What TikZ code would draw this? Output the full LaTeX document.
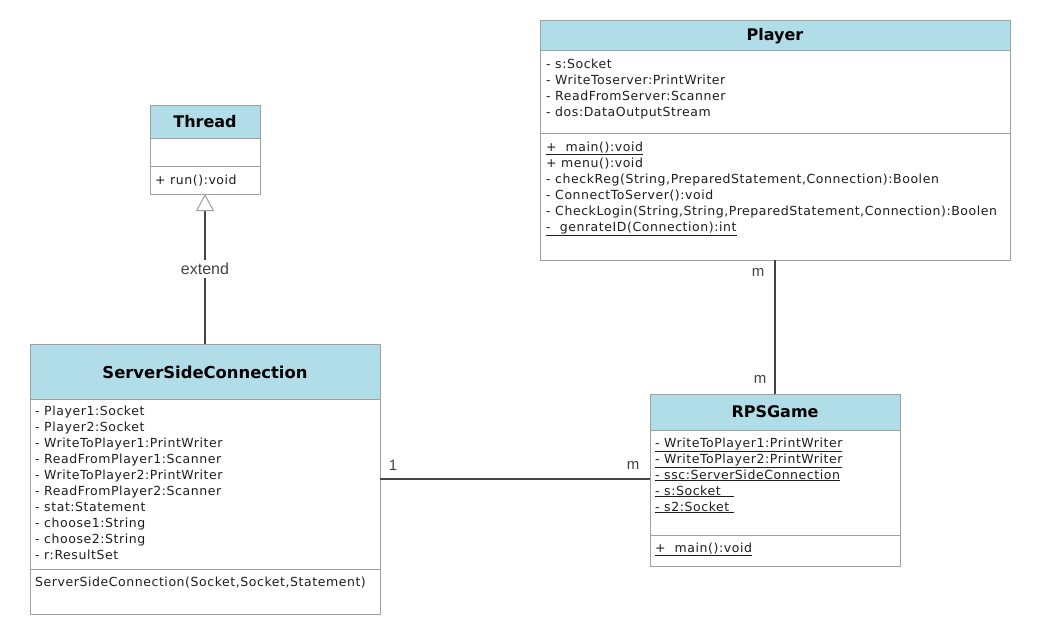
\documentclass[tikz,border=0pt]{standalone}
\usepackage{fontspec}
\setmainfont{DejaVu Sans}
\newfontfamily\memberfont[LetterSpace=4.5]{DejaVu Sans}
\newfontfamily\labelfont{Liberation Sans}
\usetikzlibrary{arrows.meta}
\definecolor{hdr}{RGB}{177,221,232}
\definecolor{frame}{RGB}{160,160,160}
\definecolor{wire}{RGB}{68,68,68}
\definecolor{txt}{RGB}{30,30,30}
\newcommand\ul[1]{$\underline{\hbox{#1}}$}
\tikzset{
  classbox/.style={draw=frame, line width=1pt, anchor=north west, inner sep=0pt, outer sep=0pt},
  member/.style={anchor=base west, inner sep=0pt, font=\memberfont\fontsize{12.5}{14}\selectfont, text=txt},
  classname/.style={anchor=center, inner sep=0pt, font=\bfseries\fontsize{16}{18}\selectfont, text=black},
  sepline/.style={draw=frame, line width=1pt},
  wirestyle/.style={draw=wire, line width=1.4pt},
  mult/.style={font=\labelfont\fontsize{15}{17}\selectfont, text=wire, inner sep=0pt}
}
\begin{document}
\begin{tikzpicture}[x=1pt, y=-1pt]
\useasboundingbox (0,0) rectangle (1051,641);
\fill[white] (0,0) rectangle (1051,641);

% ---------- Thread ----------
\fill[hdr] (150,105) rectangle (260,138);
\draw[sepline] (150,138) -- (260,138);
\draw[sepline] (150,166) -- (260,166);
\node[classbox, minimum width=110pt, minimum height=89pt] (thread) at (150,105) {};
\node[classname] (thread-title) at (205,122) {Thread};
\node[member] (thread-m1) at (155,184) {+ run():void};

% ---------- ServerSideConnection ----------
\fill[hdr] (30,344) rectangle (380,399);
\draw[sepline] (30,399) -- (380,399);
\draw[sepline] (30,569) -- (380,569);
\node[classbox, minimum width=350pt, minimum height=270pt] (ssc) at (30,344) {};
\node[classname, font=\bfseries\fontsize{16.4}{18}\selectfont] (ssc-title) at (205,372) {ServerSideConnection};
\foreach \t [count=\i] in {- Player1:Socket, - Player2:Socket, - WriteToPlayer1:PrintWriter,
    - ReadFromPlayer1:Scanner, - WriteToPlayer2:PrintWriter, - ReadFromPlayer2:Scanner,
    - stat:Statement, - choose1:String, - choose2:String, - r:ResultSet}
  \node[member] (ssc-a\i) at (35,{415+16.1*(\i-1)}) {\t};
\node[member] (ssc-m1) at (35,586) {ServerSideConnection(Socket,Socket,Statement)};

% ---------- Player ----------
\fill[hdr] (540,20) rectangle (1010,50);
\draw[sepline] (540,50) -- (1010,50);
\draw[sepline] (540,133) -- (1010,133);
\node[classbox, minimum width=470pt, minimum height=240pt] (player) at (540,20) {};
\node[classname] (player-title) at (775,36) {Player};
\foreach \t [count=\i] in {- s:Socket, - WriteToserver:PrintWriter,
    - ReadFromServer:Scanner, - dos:DataOutputStream}
  \node[member] (player-a\i) at (546,{68+16*(\i-1)}) {\t};
\foreach \t [count=\i] in {{\ul{+ \ main():void}}, {+ menu():void},
    {- checkReg(String,PreparedStatement,Connection):Boolen},
    {- ConnectToServer():void},
    {- CheckLogin(String,String,PreparedStatement,Connection):Boolen},
    {\ul{- \ genrateID(Connection):int}}}
  \node[member] (player-m\i) at (546,{151+16*(\i-1)}) {\t};

% ---------- RPSGame ----------
\fill[hdr] (650,394) rectangle (900,430);
\draw[sepline] (650,430) -- (900,430);
\draw[sepline] (650,535) -- (900,535);
\node[classbox, minimum width=250pt, minimum height=172pt] (rps) at (650,394) {};
\node[classname] (rps-title) at (775,412) {RPSGame};
\foreach \t [count=\i] in {{\ul{- WriteToPlayer1:PrintWriter}}, {\ul{- WriteToPlayer2:PrintWriter}},
    {\ul{- ssc:ServerSideConnection}}, {\ul{- s:Socket\ \ \ }}, {\ul{- s2:Socket\ }}}
  \node[member] (rps-a\i) at (655,{447+16*(\i-1)}) {\t};
\node[member] (rps-m1) at (655,552) {\ul{+ \ main():void}};

% ---------- Relations ----------
\draw[wirestyle, -{Triangle[open, length=17pt, width=18pt, color=frame, line width=1pt]}]
  (ssc.north) -- (thread.south);
\node[mult, fill=white, inner sep=3pt, font=\labelfont\fontsize{16}{18}\selectfont] (ext) at (205,269) {extend};

\draw[wirestyle] (player.south) -- (rps.north);
\node[mult] (pm1) at (758,272) {m};
\node[mult] (pm2) at (760,379) {m};

\draw[wirestyle] (ssc.east) -- (ssc.east -| rps.west);
\node[mult] (sm1) at (393,465) {1};
\node[mult] (sm2) at (633,465) {m};
\end{tikzpicture}
\end{document}
